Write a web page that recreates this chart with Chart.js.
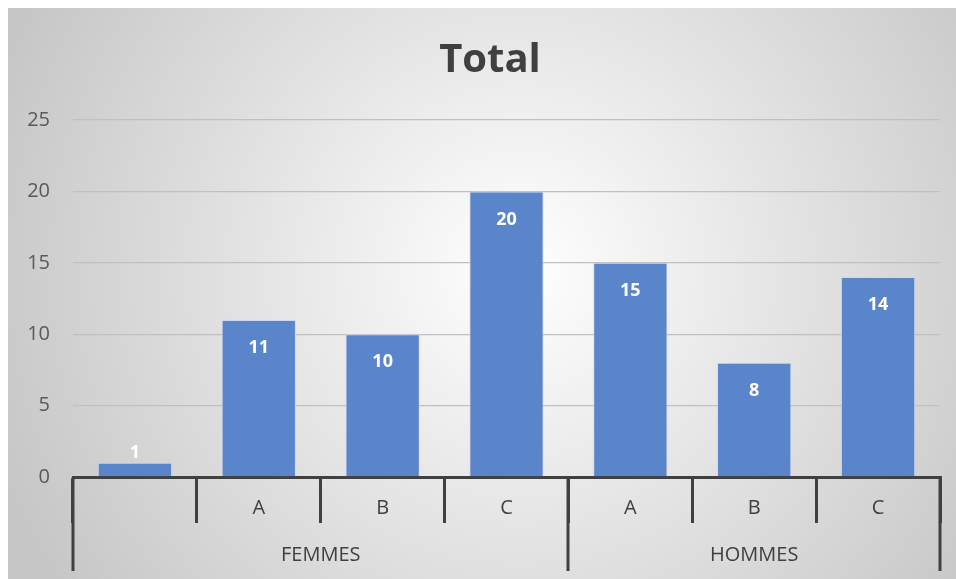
<!DOCTYPE html>
<html><head><meta charset="utf-8">
<script src="https://cdn.jsdelivr.net/npm/chart.js@4/dist/chart.umd.min.js"></script>
<style>html,body{margin:0;padding:0;background:#fff;overflow:hidden}#wrap{position:relative;width:956px;height:579px}</style>
</head><body><div id="wrap"><canvas id="c" width="956" height="579"></canvas></div>
<script>
const categories = ['', 'A', 'B', 'C', 'A', 'B', 'C'];
const groupLabels = ['FEMMES', 'HOMMES'];
const groupSizes = [4, 3];
const values = [1, 11, 10, 20, 15, 8, 14];
const titleText = 'Total';

const FONT = "'Open Sans', 'Liberation Sans', sans-serif";

const bgPlugin = {
  id: 'bg',
  beforeDraw(chart) {
    const ctx = chart.ctx;
    ctx.save();
    ctx.fillStyle = '#ffffff';
    ctx.fillRect(0, 0, chart.width, chart.height);
    const g = ctx.createRadialGradient(520, 270, 0, 520, 270, 560);
    g.addColorStop(0, '#ffffff');
    g.addColorStop(1, '#c6c6c6');
    ctx.fillStyle = g;
    ctx.fillRect(8, 8, chart.width - 8, chart.height - 8);
    ctx.restore();
  }
};

const labelPlugin = {
  id: 'labels',
  afterDatasetsDraw(chart) {
    const ctx = chart.ctx;
    const meta = chart.getDatasetMeta(0);
    ctx.save();
    ctx.fillStyle = '#ffffff';
    ctx.font = 'bold 18px ' + FONT;
    ctx.textAlign = 'center';
    ctx.textBaseline = 'middle';
    meta.data.forEach((bar, i) => {
      const h = bar.base - bar.y;
      const ty = h > 30 ? bar.y + 28 : bar.y - 10;
      ctx.fillText(String(values[i]), bar.x, ty);
    });
    ctx.restore();
  },
  afterDraw(chart) {
    const ctx = chart.ctx;
    const xs = chart.scales.x;
    const area = chart.chartArea;
    const catW = xs.width / categories.length;
    ctx.save();
    // title
    ctx.fillStyle = '#404040';
    ctx.font = 'bold 40px ' + FONT;
    ctx.textAlign = 'center';
    ctx.textBaseline = 'middle';
    ctx.fillText(titleText, 490, 61);
    // category labels
    ctx.font = '20px ' + FONT;
    categories.forEach((c, i) => {
      ctx.fillText(c, xs.getPixelForValue(i), 508);
    });
    ctx.strokeStyle = '#404040';
    ctx.lineWidth = 3;
    let idx = 0;
    const bounds = [xs.getPixelForValue(0) - catW / 2];
    groupLabels.forEach((g, k) => {
      const start = xs.getPixelForValue(idx) - catW / 2;
      idx += groupSizes[k];
      const end = xs.getPixelForValue(idx - 1) + catW / 2;
      bounds.push(end);
      ctx.fillText(g, (start + end) / 2, 555);
    });
    bounds.forEach(b => {
      const x = Math.round(b);
      ctx.beginPath();
      ctx.moveTo(x, area.bottom);
      ctx.lineTo(x, 571);
      ctx.stroke();
    });
    ctx.restore();
  }
};

new Chart(document.getElementById('c'), {
  type: 'bar',
  data: {
    labels: categories.map((c, i) => c || ' '),
    datasets: [{
      data: values,
      backgroundColor: '#5b85cb',
      borderColor: 'rgba(200,215,240,0.8)',
      borderWidth: 1,
      barPercentage: 0.6,
      categoryPercentage: 1.0
    }]
  },
  options: {
    responsive: false,
    animation: false,
    layout: { padding: { left: 8, right: 16, top: 120, bottom: 0 } },
    plugins: {
      legend: { display: false },
      tooltip: { enabled: false },
      title: { display: false }
    },
    scales: {
      x: {
        afterFit(scale) { scale.height = 102; },
        ticks: { display: false },
        grid: { offset: true, drawOnChartArea: false, drawTicks: true, tickLength: 46, color: '#404040', lineWidth: 3 },
        border: { display: true, color: '#404040', width: 3 }
      },
      y: {
        min: 0, max: 25,
        afterFit(scale) { scale.width = 65; },
        ticks: { stepSize: 5, padding: 23, color: '#595959', font: { family: FONT, size: 20 } },
        grid: { color: '#c0c0c0', lineWidth: 1.3, drawTicks: false },
        border: { display: false }
      }
    }
  },
  plugins: [bgPlugin, labelPlugin]
});
</script></body></html>
